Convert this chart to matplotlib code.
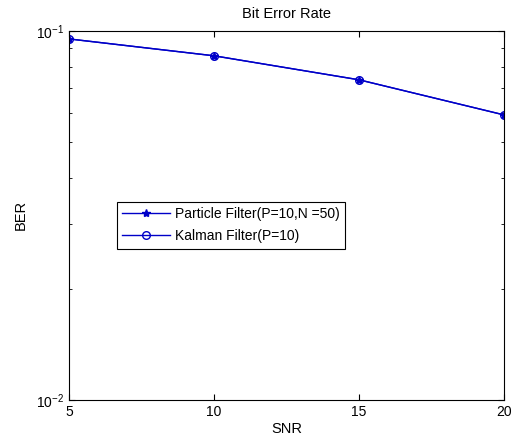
import matplotlib
matplotlib.use("Agg")
import matplotlib.pyplot as plt
from matplotlib.ticker import LogLocator, NullFormatter

plt.rcParams['font.family'] = ['Liberation Sans', 'DejaVu Sans']
plt.rcParams['mathtext.fontset'] = 'custom'
plt.rcParams['mathtext.rm'] = 'Liberation Sans'

# --- data ---
snr = [5, 10, 15, 20]
ber_particle = [0.0951, 0.0856, 0.0737, 0.0592]
ber_kalman = [0.0951, 0.0856, 0.0737, 0.0592]

fig = plt.figure(figsize=(5.13, 4.41), dpi=100)
ax = fig.add_axes([0.1345, 0.093, 0.848, 0.837])

ax.semilogy(snr, ber_particle, color='#0000c8', lw=1.0, marker='*', ms=6,
            label='Particle Filter(P=10,N =50)')
ax.semilogy(snr, ber_kalman, color='#0000c8', lw=1.0, marker='o', ms=5.5,
            mfc='none', label='Kalman Filter(P=10)')

ax.set_xlim(5, 20)
ax.set_ylim(1e-2, 1e-1)
ax.set_xticks([5, 10, 15, 20])
ax.yaxis.set_major_locator(LogLocator(base=10))
ax.yaxis.set_minor_locator(LogLocator(base=10, subs=range(2, 10)))
ax.yaxis.set_minor_formatter(NullFormatter())
ax.tick_params(which='both', direction='in', top=True, right=True, labelsize=10)
ax.tick_params(which='major', length=4)
ax.tick_params(which='minor', length=2.5)

ax.set_title('Bit Error Rate', fontsize=10.5, pad=9)
ax.set_xlabel('SNR', fontsize=10.5, labelpad=2)
ax.set_ylabel('BER', fontsize=10.5, labelpad=6)

leg = ax.legend(loc='upper left', bbox_to_anchor=(0.110, 0.537), fontsize=10,
                fancybox=False, framealpha=1, edgecolor='black',
                handlelength=3.4, handletextpad=0.4, borderpad=0.4,
                labelspacing=0.55, borderaxespad=0)
leg.get_frame().set_linewidth(0.8)

fig.savefig('out.png', dpi=100)
